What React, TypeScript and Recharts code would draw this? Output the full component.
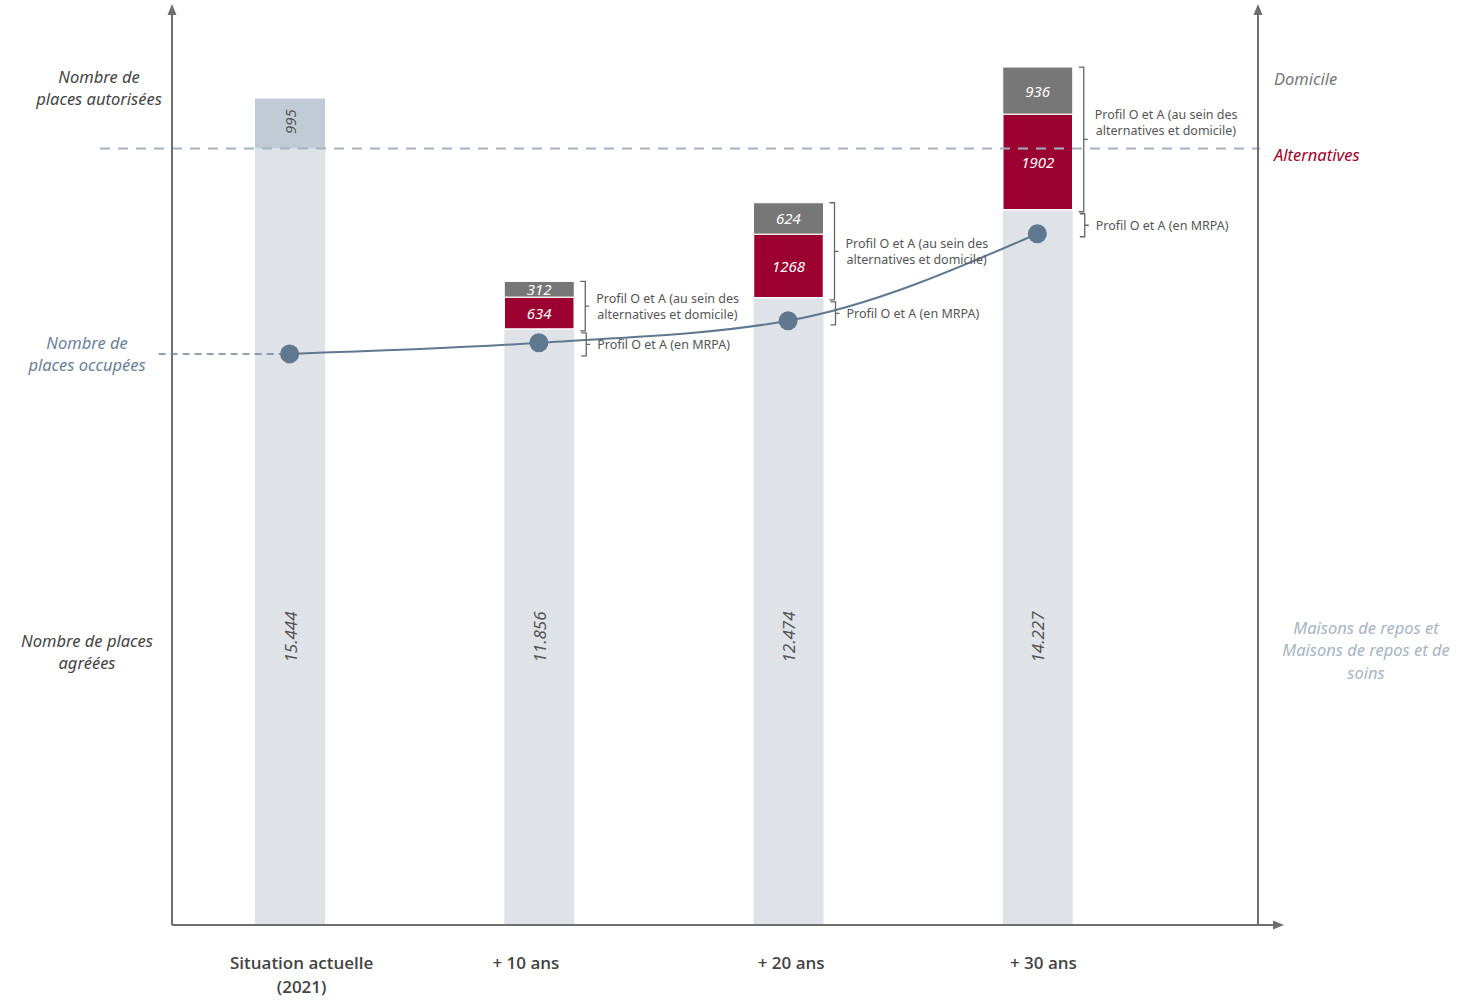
import React from 'react';
import { ComposedChart, Bar, Line, XAxis, YAxis, ReferenceLine, LabelList } from 'recharts';

const periods = ['Situation actuelle (2021)', '+ 10 ans', '+ 20 ans', '+ 30 ans'];
const periodLines = [['Situation actuelle', '(2021)'], ['+ 10 ans'], ['+ 20 ans'], ['+ 30 ans']];
const agreees = [15444, 11856, 12474, 14227];
const autorisees = [995, 0, 0, 0];
const alternatives = [0, 634, 1268, 1902];
const domicile = [0, 312, 624, 936];
const occupees = [11360, 11580, 12020, 13750];

const leftTicks = [16650, 11360, 5440];
const leftLabels = [
  ['Nombre de', 'places autorisées'],
  ['Nombre de', 'places occupées'],
  ['Nombre de places', 'agréées'],
];
const rightTicks = [16810, 15300, 5450];
const rightLabels = [['Domicile'], ['Alternatives'], ['Maisons de repos et', 'Maisons de repos et de', 'soins']];
const braceTopText = ['Profil O et A (au sein des', 'alternatives et domicile)'];
const braceBottomText = 'Profil O et A (en MRPA)';

const rows = periods.map((p, i) => ({
  period: p,
  agreees: agreees[i],
  autorisees: autorisees[i],
  alternatives: alternatives[i],
  domicile: domicile[i],
  occupees: occupees[i],
}));

const FONT = '"Noto Sans", sans-serif';
const AXIS = '#6e6e6e';

const thousands = (v: number) => String(v).replace(/\B(?=(\d{3})+(?!\d))/g, '.');

// the period labels sit slightly off the bar centres in the original
const X_NUDGE = [12, -13, 3, 6];

const XTick = ({ x, y, payload }: any) => {
  const idx = Number(payload.index);
  const lines = periodLines[idx] || [payload.value];
  const tx = x + (X_NUDGE[idx] || 0);
  return (
    <text x={tx} y={y + 36} textAnchor="middle" fill="#444" fontFamily='"Open Sans", sans-serif' fontWeight={600} fontSize={17}>
      {lines.map((l, i) => (
        <tspan key={i} x={tx} dy={i === 0 ? 0 : 23.5}>{l}</tspan>
      ))}
    </text>
  );
};

const LeftTick = ({ x, y, payload }: any) => {
  const i = leftTicks.indexOf(payload.value);
  const lines = leftLabels[i] || [];
  const cx = i === 0 ? x - 65 : x - 77;
  const color = i === 1 ? '#6b8198' : '#444';
  return (
    <text x={cx} y={y - 5} textAnchor="middle" fill={color} fontFamily={FONT} fontStyle="italic" fontSize={16.5}>
      {lines.map((l, k) => (
        <tspan key={k} x={cx} dy={k === 0 ? 0 : 22.5}>{l}</tspan>
      ))}
    </text>
  );
};

const RightTick = ({ x, y, payload }: any) => {
  const i = rightTicks.indexOf(payload.value);
  const lines = rightLabels[i] || [];
  const colors = ['#777', '#a0002a', '#a8b4c2'];
  const anchor = i === 2 ? 'middle' : 'start';
  const tx = i === 2 ? x + 100 : x + 8;
  const top = y + 5 - (lines.length - 1) * 11.25;
  return (
    <text x={tx} y={top} textAnchor={anchor} fill={colors[i]} fontFamily={FONT} fontStyle="italic" fontSize={16.5}>
      {lines.map((l, k) => (
        <tspan key={k} x={tx} dy={k === 0 ? 0 : 22.5}>{l}</tspan>
      ))}
    </text>
  );
};

const VArrow = ({ viewBox, side }: any) => {
  const ax = side === 'left' ? viewBox.x + viewBox.width : viewBox.x;
  const ty = viewBox.y - 6;
  return <polygon points={`${ax},${ty} ${ax - 4.5},${ty + 11} ${ax + 4.5},${ty + 11}`} fill={AXIS} />;
};

const XArrow = ({ viewBox }: any) => {
  const x2 = viewBox.x + viewBox.width;
  const y = viewBox.y;
  return (
    <g>
      <line x1={x2} y1={y} x2={x2 + 18} y2={y} stroke={AXIS} strokeWidth={2} />
      <polygon points={`${x2 + 26},${y} ${x2 + 15},${y - 4.5} ${x2 + 15},${y + 4.5}`} fill={AXIS} />
    </g>
  );
};

const bracePath = (bx: number, y1: number, y2: number) => {
  const ym = (y1 + y2) / 2;
  return `M${bx - 5},${y1} H${bx} V${y2} H${bx - 5} M${bx},${ym} H${bx + 4}`;
};

const BaseLabel = (props: any) => {
  const { x, y, width, height, value } = props;
  const index = agreees.indexOf(value);
  const cx = x + width / 2;
  const ly = y + height - 288;
  const bx = x + width + 12;
  return (
    <g>
      <text
        x={cx}
        y={ly}
        transform={`rotate(-90 ${cx} ${ly})`}
        textAnchor="middle"
        dominantBaseline="central"
        fill="#555"
        fontFamily={FONT}
        fontStyle="italic"
        fontSize={17}
      >
        {thousands(value)}
      </text>
      {index > 0 && (
        <g>
          <path d={bracePath(bx, y + 4, y + 27)} stroke="#666" strokeWidth={1.3} fill="none" />
          <text x={bx + 11} y={y + 16} dominantBaseline="central" fill="#555" fontFamily={FONT} fontSize={12.5}>
            {braceBottomText}
          </text>
        </g>
      )}
    </g>
  );
};

const AutoLabel = (props: any) => {
  const { x, y, width, height, value } = props;
  if (!value) return null;
  const cx = x + width / 2;
  const cy = y + height / 2 - 2;
  return (
    <text
      x={cx}
      y={cy}
      transform={`rotate(-90 ${cx} ${cy})`}
      textAnchor="middle"
      dominantBaseline="central"
      fill="#555"
      fontFamily={FONT}
      fontStyle="italic"
      fontSize={15}
    >
      {value}
    </text>
  );
};

const InnerLabel = (props: any) => {
  const { x, y, width, height, value } = props;
  if (!value) return null;
  return (
    <text
      x={x + width / 2}
      y={y + height / 2}
      textAnchor="middle"
      dominantBaseline="central"
      fill="#fff"
      fontFamily={FONT}
      fontStyle="italic"
      fontSize={15}
    >
      {value}
    </text>
  );
};

const TopBrace = (props: any) => {
  const { x, y, width, height, value } = props;
  const index = domicile.indexOf(value);
  if (!value || index < 0) return null;
  const redH = (height * alternatives[index]) / domicile[index];
  const bx = x + width + 11;
  const y1 = y;
  const y2 = y + height + redH + 2;
  const ym = (y1 + y2) / 2;
  // last block: text lifted above the dashed limit line
  const ty = index === domicile.length - 1 ? ym - 17 : ym;
  return (
    <g>
      <path d={bracePath(bx, y1, y2)} stroke="#666" strokeWidth={1.3} fill="none" />
      <text x={bx + 11} y={ty - 3} fill="#555" fontFamily={FONT} fontSize={12.5}>
        <tspan x={bx + 11} dy={0}>{braceTopText[0]}</tspan>
        <tspan x={bx + 12} dy={16}>{braceTopText[1]}</tspan>
      </text>
    </g>
  );
};

const OccDot = (props: any) => {
  const { cx, cy } = props;
  const index = Number(props.index);
  return (
    <g>
      {index === 0 && (
        <line x1={cx - 131} y1={cy} x2={cx} y2={cy} stroke="#6b8198" strokeWidth={1.5} strokeDasharray="7 5" />
      )}
      <circle cx={cx} cy={cy} r={9.5} fill="#5f7890" />
    </g>
  );
};

const DashedLimit = (p: any) => (
  <line x1={p.x1 - 72} y1={p.y1} x2={p.x2 + 2} y2={p.y2} stroke="#a3b1c2" strokeWidth={2} strokeDasharray="10 8" />
);

export default function App() {
  return (
    <div style={{ position: 'absolute', left: 0, top: 0, background: '#fff' }}>
      <ComposedChart width={1465} height={1000} data={rows} margin={{ top: 10, right: 7, bottom: 15, left: 0 }}>
        <XAxis
          dataKey="period"
          height={60}
          padding={{ left: -7, right: 96 }}
          axisLine={{ stroke: AXIS, strokeWidth: 2 }}
          tickLine={false}
          tick={<XTick />}
          interval={0}
          label={{ content: (p: any) => <XArrow {...p} /> }}
        />
        <YAxis
          yAxisId="l"
          width={172}
          domain={[0, 18200]}
          ticks={leftTicks}
          axisLine={{ stroke: AXIS, strokeWidth: 2 }}
          tickLine={false}
          tick={<LeftTick />}
          interval={0}
          label={{ content: (p: any) => <VArrow {...p} side="left" /> }}
        />
        <YAxis
          yAxisId="r"
          orientation="right"
          width={200}
          domain={[0, 18200]}
          ticks={rightTicks}
          axisLine={{ stroke: AXIS, strokeWidth: 2 }}
          tickLine={false}
          tick={<RightTick />}
          interval={0}
          label={{ content: (p: any) => <VArrow {...p} side="right" /> }}
        />
        <Bar yAxisId="l" dataKey="agreees" stackId="s" fill="#dfe3e8" barSize={70} isAnimationActive={false}>
          <LabelList dataKey="agreees" content={<BaseLabel />} />
        </Bar>
        <Bar yAxisId="l" dataKey="autorisees" stackId="s" fill="#c1cbd5" barSize={70} isAnimationActive={false}>
          <LabelList dataKey="autorisees" content={<AutoLabel />} />
        </Bar>
        <Bar yAxisId="l" dataKey="alternatives" stackId="s" fill="#9b0030" stroke="#fff" strokeWidth={1.5} barSize={70} isAnimationActive={false}>
          <LabelList dataKey="alternatives" content={<InnerLabel />} />
        </Bar>
        <Bar yAxisId="l" dataKey="domicile" stackId="s" fill="#777777" stroke="#fff" strokeWidth={1} barSize={70} isAnimationActive={false}>
          <LabelList dataKey="domicile" content={<InnerLabel />} />
          <LabelList dataKey="domicile" content={<TopBrace />} />
        </Bar>
        <ReferenceLine yAxisId="l" y={agreees[0]} ifOverflow="visible" shape={DashedLimit} />
        <Line
          yAxisId="r"
          type="monotone"
          dataKey="occupees"
          stroke="#5f7890"
          strokeWidth={2}
          dot={<OccDot />}
          activeDot={false}
          isAnimationActive={false}
        />
      </ComposedChart>
    </div>
  );
}
